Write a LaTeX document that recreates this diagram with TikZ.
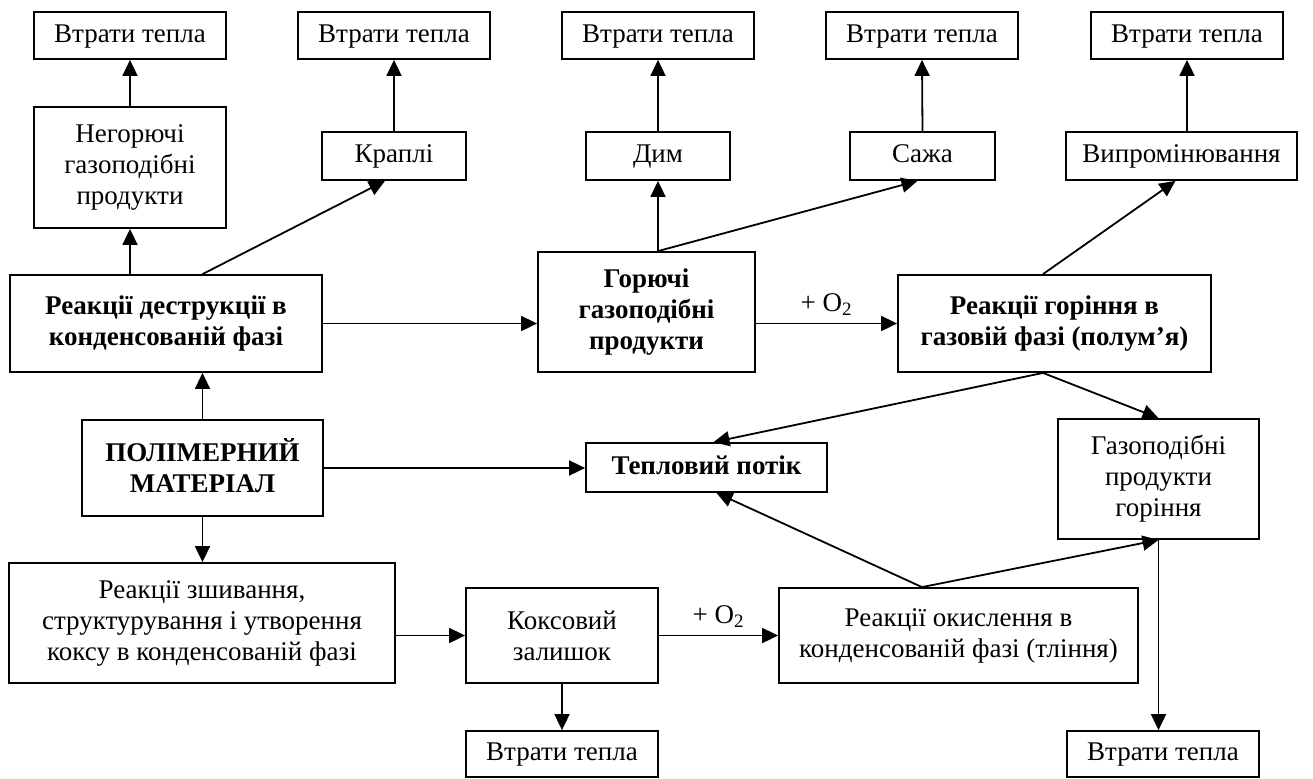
\documentclass[tikz,border=0pt]{standalone}
\usepackage{fontspec}
\setmainfont{Liberation Serif}
\usetikzlibrary{positioning,arrows.meta,calc}

\begin{document}
\begin{tikzpicture}[x=0.5pt, y=-0.5pt,
    every node/.style={font=\fontsize{13.5}{15.5}\selectfont},
    blk/.style={draw, line width=0.9pt, align=center, inner sep=2pt},
    bblk/.style={blk, font=\fontsize{13.5}{15.5}\selectfont\bfseries},
    oneline/.style={text height=9pt, text depth=2.5pt},
    arr/.style={line width=0.9pt, -{Triangle[length=8pt,width=7.5pt]}}]
  \useasboundingbox (0,0) rectangle (1313,778);
  % Heat losses, top row
  \foreach \i/\x in {1/130, 2/394, 3/658, 4/922, 5/1187}
    \node[blk, oneline, minimum width=96pt, minimum height=23.5pt] (loss\i) at (\x,35.5) {Втрати тепла};
  % Products
  \node[blk, minimum width=96pt, minimum height=60.5pt] (nonfuel) at (130,167.5) {Негорючі\\газоподібні\\продукти};
  \node[blk, oneline, minimum width=72pt, minimum height=24pt] (drops) at (394,156) {Краплі};
  \node[blk, oneline, minimum width=72pt, minimum height=24pt] (smoke) at (658,156) {Дим};
  \node[blk, oneline, minimum width=72.5pt, minimum height=24pt] (soot) at (922.5,156) {Сажа};
  \node[blk, oneline, minimum width=115.5pt, minimum height=24pt] (rad) at (1181.5,156) {Випромінювання};
  % Main stages
  \node[bblk, minimum width=156pt, minimum height=48.5pt] (destr) at (166,323.5) {Реакції деструкції в\\конденсованій фазі};
  \node[bblk, minimum width=108.5pt, minimum height=60pt] (fuel) at (646.5,312) {Горючі\\газоподібні\\продукти};
  \node[bblk, minimum width=156.5pt, minimum height=48.5pt] (comb) at (1054.5,323.5) {Реакції горіння в\\газовій фазі (полум’я)};
  \node[bblk, minimum width=120.5pt, minimum height=48pt] (poly) at (202.5,468) {ПОЛІМЕРНИЙ\\МАТЕРІАЛ\vphantom{p}};
  \node[bblk, oneline, minimum width=120.5pt, minimum height=24.5pt] (heat) at (706.5,467.5) {Тепловий потік};
  \node[blk, minimum width=100.5pt, minimum height=60pt] (gasprod) at (1158.5,479) {Газоподібні\\продукти\\горіння};
  % Coke branch
  \node[blk, minimum width=193pt, minimum height=60pt] (cross) at (202,623) {Реакції зшивання,\\структурування і утворення\\коксу в конденсованій фазі};
  \node[blk, minimum width=96pt, minimum height=47.5pt] (coke) at (562,635.5) {Коксовий\\залишок};
  \node[blk, minimum width=179.5pt, minimum height=47.5pt] (oxid) at (958.5,635.5) {Реакції окислення в\\конденсованій фазі (тління)};
  \node[blk, oneline, minimum width=96pt, minimum height=23pt] (lossc) at (562,754) {Втрати тепла};
  \node[blk, oneline, minimum width=96pt, minimum height=23pt] (lossg) at (1163,754) {Втрати тепла};
  % Branch points
  \coordinate (ftop) at (fuel.north -| smoke.south);
  \coordinate (ctop) at ($(comb.north)+(-11.5,0)$);
  \coordinate (cbot) at ($(comb.south)+(-11.5,0)$);
  \coordinate (otop) at ($(oxid.north)+(-36.5,0)$);
  % Arrows
  \draw[arr] (nonfuel.south |- destr.north) -- (nonfuel.south);
  \draw[arr] (nonfuel.north) -- (loss1.south);
  \draw[arr] (destr.north -| poly.north) -- ($(drops.south)+(-9,0)$);
  \draw[arr] (drops.north) -- (loss2.south);
  \draw[arr] (destr.east) -- (destr.east -| fuel.west);
  \draw[arr] (ftop) -- (smoke.south);
  \draw[arr] (ftop) -- ($(soot.south)+(-5,0)$);
  \draw[arr] (smoke.north) -- (loss3.south);
  \draw[arr] (soot.north) -- (loss4.south);
  \draw[arr] (fuel.east |- comb.west) -- node[above] {+ O\textsubscript{2}} (comb.west);
  \draw[arr] (ctop) -- ($(rad.south)+(-6,0)$);
  \draw[arr] (rad.north -| loss5.south) -- (loss5.south);
  \draw[arr] (poly.north) -- (poly.north |- destr.south);
  \draw[arr] (poly.east) -- (poly.east -| heat.west);
  \draw[arr] (poly.south) -- (poly.south |- cross.north);
  \draw[arr] (cbot) -- ($(heat.north)+(7,0)$);
  \draw[arr] (cbot) -- (gasprod.north);
  \draw[arr] (otop) -- ($(heat.south)+(10,0)$);
  \draw[arr] (otop) -- (gasprod.south);
  \draw[arr] (gasprod.south) -- (gasprod.south |- lossg.north);
  \draw[arr] (cross.east |- coke.west) -- (coke.west);
  \draw[arr] (coke.east) -- node[above] {+ O\textsubscript{2}} (oxid.west);
  \draw[arr] (coke.south) -- (lossc.north);
\end{tikzpicture}
\end{document}
